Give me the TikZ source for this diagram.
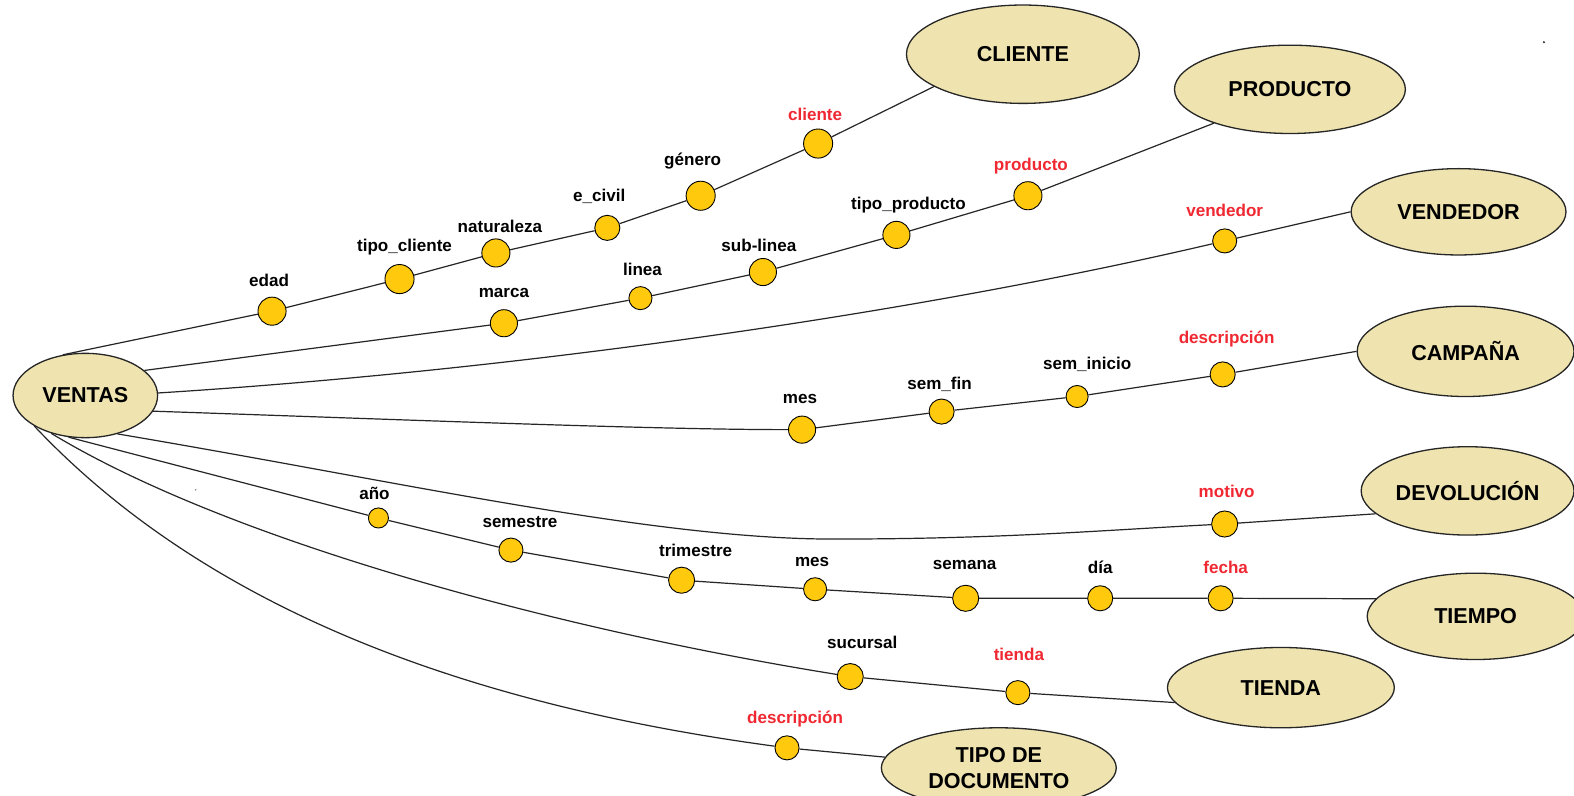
\documentclass[tikz,border=0pt]{standalone}
\usepackage{fontspec}
\setmainfont{Liberation Sans}
\usetikzlibrary{shapes.geometric}

\definecolor{entityfill}{RGB}{239,228,176}
\definecolor{attrfill}{RGB}{255,201,14}
\definecolor{keyred}{RGB}{240,40,50}

\tikzset{
  entity/.style={ellipse, draw=black!85, line width=1.3pt, fill=entityfill,
    inner sep=0pt, align=center, font=\fontsize{21.5}{26}\selectfont\bfseries},
  attr/.style={circle, draw=black, line width=0.9pt, fill=attrfill,
    inner sep=0pt, minimum size=#1pt},
  attr/.default=26,
  lbl/.style={font=\fontsize{17}{20}\selectfont\bfseries, text=black, inner sep=0pt},
  keylbl/.style={lbl, text=keyred},
  link/.style={draw=black!85, line width=1.2pt},
}

\begin{document}
\begin{tikzpicture}[x=1pt, y=-1pt]
\useasboundingbox[fill=white] (0,0) rectangle (1568,792);

% ---------- entities ----------
\node[entity, minimum width=144pt, minimum height=84pt] (eVentas)   at (85,394)   {VENTAS};
\node[entity, minimum width=232pt, minimum height=98pt] (eCliente)  at (1019,54)  {CLIENTE};
\node[entity, minimum width=230pt, minimum height=88pt] (eProducto) at (1285,89)  {PRODUCTO};
\node[entity, minimum width=214pt, minimum height=86pt] (eVendedor) at (1453,211) {VENDEDOR};
\node[entity, minimum width=216pt, minimum height=90pt] (eCampana)  at (1460,350) {CAMPAÑA};
\node[entity, minimum width=212pt, minimum height=88pt] (eDevol)    at (1462,489) {DEVOLUCIÓN};
\node[entity, minimum width=216pt, minimum height=86pt] (eTiempo)   at (1470,614) {TIEMPO};
\node[entity, minimum width=226pt, minimum height=80pt] (eTienda)   at (1276,685) {TIENDA};
\node[entity, minimum width=234pt, minimum height=80pt] (eTipoDoc)  at (995,765)  {TIPO DE\\DOCUMENTO};

% ---------- attribute dots ----------
% cliente hierarchy
\node[attr=28] (c1) at (271,310) {};
\node[attr=29] (c2) at (398,278) {};
\node[attr=28] (c3) at (494,252) {};
\node[attr=25] (c4) at (605,227) {};
\node[attr=29] (c5) at (698,195) {};
\node[attr=29] (c6) at (815,143) {};
% producto hierarchy
\node[attr=27] (p1) at (502,322) {};
\node[attr=23] (p2) at (638,297) {};
\node[attr=27] (p3) at (760,271) {};
\node[attr=27] (p4) at (893,234) {};
\node[attr=28] (p5) at (1024,195) {};
% vendedor
\node[attr=24] (v1) at (1220,240) {};
% campana hierarchy
\node[attr=27] (k1) at (799,428) {};
\node[attr=25] (k2) at (938,410) {};
\node[attr=22] (k3) at (1073,395) {};
\node[attr=25] (k4) at (1218,373) {};
% devolucion
\node[attr=26] (m1) at (1220,522) {};
% tiempo hierarchy
\node[attr=20] (t1) at (377,516) {};
\node[attr=24] (t2) at (509,548) {};
\node[attr=26] (t3) at (679,578) {};
\node[attr=23] (t4) at (812,587) {};
\node[attr=26] (t5) at (962,596) {};
\node[attr=25] (t6) at (1096,596) {};
\node[attr=25] (t7) at (1216,596) {};
% tienda hierarchy
\node[attr=26] (s1) at (847,674) {};
\node[attr=24] (s2) at (1014,690) {};
% tipo de documento
\node[attr=24] (d1) at (784,745) {};

% ---------- labels ----------
\node[lbl]    (lc1) at (268,279)  {edad};
\node[lbl]    (lc2) at (403,246)  {tipo\_cliente};
\node[lbl]    (lc3) at (498,226)  {naturaleza};
\node[lbl]    (lc4) at (597,196)  {e\_civil};
\node[lbl]    (lc5) at (690,160)  {género};
\node[keylbl] (lc6) at (812,114)  {cliente};

\node[lbl]    (lp1) at (502,292)  {marca};
\node[lbl]    (lp2) at (640,268)  {linea};
\node[lbl]    (lp3) at (756,244)  {sub-linea};
\node[lbl]    (lp4) at (905,204)  {tipo\_producto};
\node[keylbl] (lp5) at (1027,165) {producto};

\node[keylbl] (lv1) at (1220,210) {vendedor};

\node[lbl]    (lk1) at (797,397)  {mes};
\node[lbl]    (lk2) at (936,383)  {sem\_fin};
\node[lbl]    (lk3) at (1083,363) {sem\_inicio};
\node[keylbl] (lk4) at (1222,338) {descripción};

\node[keylbl] (lm1) at (1222,490) {motivo};

\node[lbl]    (lt1) at (373,492)  {año};
\node[lbl]    (lt2) at (518,520)  {semestre};
\node[lbl]    (lt3) at (693,548)  {trimestre};
\node[lbl]    (lt4) at (809,560)  {mes};
\node[lbl]    (lt5) at (961,563)  {semana};
\node[lbl]    (lt6) at (1096,565) {día};
\node[keylbl] (lt7) at (1221,565) {fecha};

\node[lbl]    (ls1) at (859,640)  {sucursal};
\node[keylbl] (ls2) at (1015,652) {tienda};

\node[keylbl] (ld1) at (792,716)  {descripción};

% ---------- connectors ----------
\draw[link] (eVentas.119) -- (c1) -- (c2) -- (c3) -- (c4) -- (c5) -- (c6) -- (eCliente.200);
\draw[link] (eVentas.23) -- (p1) -- (p2) -- (p3) -- (p4) -- (p5) -- (eProducto.204);
\draw[link] (eVentas.2) .. controls (500,370) and (900,315) .. (v1) -- (eVendedor.west);
\draw[link] (eVentas.-13) .. controls (400,418) and (650,428) .. (k1) -- (k2) -- (k3) -- (k4) -- (eCampana.180);
\draw[link] (eVentas.-50) .. controls (400,480) and (650,537) .. (830,537)
            .. controls (1000,537) and (1100,528) .. (m1) -- (eDevol.194);
\draw[link] (eVentas.-112) -- (t1) -- (t2) -- (t3) -- (t4) -- (t5) -- (t6) -- (t7) -- (eTiempo.170);
\draw[link] (eVentas.-132) .. controls (230,540) and (560,628) .. (s1) -- (s2) -- (eTienda.188);
\draw[link] (eVentas.-149) .. controls (200,600) and (450,700) .. (d1) -- (eTipoDoc);

% small specks
\fill[black!80] (1538,42) circle[radius=1.2pt];
\fill[black!60] (195,488) circle[radius=0.8pt];
\end{tikzpicture}
\end{document}
